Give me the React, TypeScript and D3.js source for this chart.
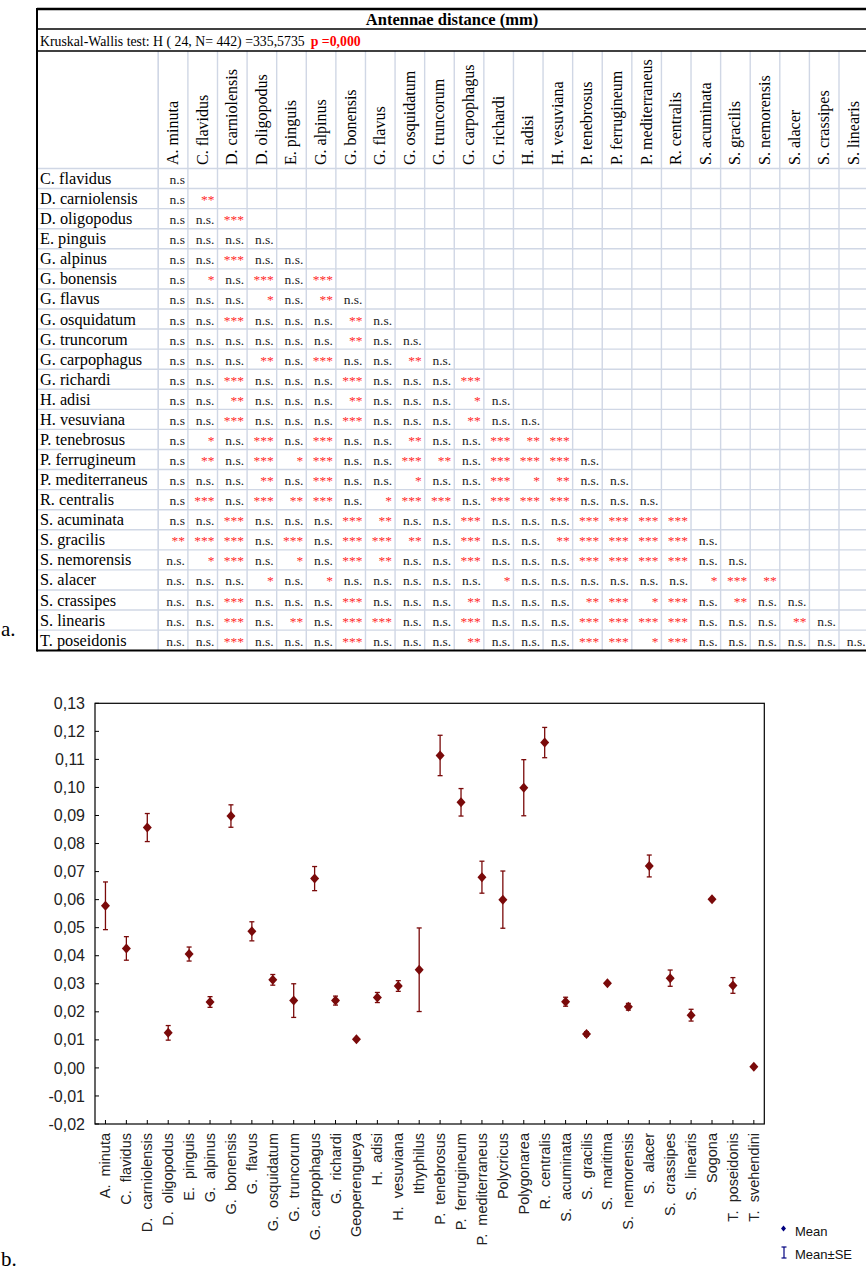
import * as d3 from 'd3';

// ---- table (a) ----
const tableTitle = 'Antennae distance (mm)';
const kwText = 'Kruskal-Wallis test: H ( 24, N= 442) =335,5735';
const kwP = 'p =0,000';

const colNames = [
  'A. minuta', 'C. flavidus', 'D. carniolensis', 'D. oligopodus', 'E. pinguis', 'G. alpinus',
  'G. bonensis', 'G. flavus', 'G. osquidatum', 'G. truncorum', 'G. carpophagus', 'G. richardi',
  'H. adisi', 'H. vesuviana', 'P. tenebrosus', 'P. ferrugineum', 'P. mediterraneus', 'R. centralis',
  'S. acuminata', 'S. gracilis', 'S. nemorensis', 'S. alacer', 'S. crassipes', 'S. linearis',
];

const rowNames = [
  'C. flavidus', 'D. carniolensis', 'D. oligopodus', 'E. pinguis', 'G. alpinus', 'G. bonensis',
  'G. flavus', 'G. osquidatum', 'G. truncorum', 'G. carpophagus', 'G. richardi', 'H. adisi',
  'H. vesuviana', 'P. tenebrosus', 'P. ferrugineum', 'P. mediterraneus', 'R. centralis',
  'S. acuminata', 'S. gracilis', 'S. nemorensis', 'S. alacer', 'S. crassipes', 'S. linearis',
  'T. poseidonis',
];

// lower triangle, one string per row
const sigRows = [
  'n.s',
  'n.s **',
  'n.s n.s. ***',
  'n.s n.s. n.s. n.s.',
  'n.s n.s. *** n.s. n.s.',
  'n.s * n.s. *** n.s. ***',
  'n.s n.s. n.s. * n.s. ** n.s.',
  'n.s n.s. *** n.s. n.s. n.s. ** n.s.',
  'n.s n.s. n.s. n.s. n.s. n.s. ** n.s. n.s.',
  'n.s n.s. n.s. ** n.s. *** n.s. n.s. ** n.s.',
  'n.s n.s. *** n.s. n.s. n.s. *** n.s. n.s. n.s. ***',
  'n.s n.s. ** n.s. n.s. n.s. ** n.s. n.s. n.s. * n.s.',
  'n.s n.s. *** n.s. n.s. n.s. *** n.s. n.s. n.s. ** n.s. n.s.',
  'n.s * n.s. *** n.s. *** n.s. n.s. ** n.s. n.s. *** ** ***',
  'n.s ** n.s. *** * *** n.s. n.s. *** ** n.s. *** *** *** n.s.',
  'n.s n.s. n.s. ** n.s. *** n.s. n.s. * n.s. n.s. *** * ** n.s. n.s.',
  'n.s *** n.s. *** ** *** n.s. * *** *** n.s. *** *** *** n.s. n.s. n.s.',
  'n.s n.s. *** n.s. n.s. n.s. *** ** n.s. n.s. *** n.s. n.s. n.s. *** *** *** ***',
  '** *** *** n.s. *** n.s. *** *** ** n.s. *** n.s. n.s. ** *** *** *** *** n.s.',
  'n.s. * *** n.s. * n.s. *** ** n.s. n.s. *** n.s. n.s. n.s. *** *** *** *** n.s. n.s.',
  'n.s. n.s. n.s. * n.s. * n.s. n.s. n.s. n.s. n.s. * n.s. n.s. n.s. n.s. n.s. n.s. * *** **',
  'n.s. n.s. *** n.s. n.s. n.s. *** n.s. n.s. n.s. ** n.s. n.s. n.s. ** *** * *** n.s. ** n.s. n.s.',
  'n.s. n.s. *** n.s. ** n.s. *** *** n.s. n.s. *** n.s. n.s. n.s. *** *** *** *** n.s. n.s. n.s. ** n.s.',
  'n.s. n.s. *** n.s. n.s. n.s. *** n.s. n.s. n.s. ** n.s. n.s. n.s. *** *** * *** n.s. n.s. n.s. n.s. n.s. n.s.',
];

// ---- chart (b) ----
const species = [
  'A.  minuta', 'C.  flavidus', 'D.  carniolensis', 'D.  oligopodus', 'E.  pinguis', 'G.  alpinus',
  'G.  bonensis', 'G.  flavus', 'G.  osquidatum', 'G.  truncorum', 'G.  carpophagus', 'G.  richardi',
  'Geoperengueya', 'H.  adisi', 'H.  vesuviana', 'Ithyphilus', 'P.  tenebrosus', 'P.  ferrugineum',
  'P.  mediterraneus', 'Polycricus', 'Polygonarea', 'R.  centralis', 'S.  acuminata', 'S.  gracilis',
  'S.  maritima', 'S.  nemorensis', 'S.  alacer', 'S.  crassipes', 'S.  linearis', 'Sogona',
  'T.  poseidonis', 'T.  svehendini',
];
const means = [
  0.0578, 0.0426, 0.0857, 0.0125, 0.0406, 0.0235, 0.0898, 0.0487, 0.0314, 0.0240, 0.0675, 0.0240,
  0.0102, 0.0251, 0.0292, 0.0350, 0.1114, 0.0947, 0.0680, 0.0600, 0.0999, 0.1160, 0.0236, 0.0121,
  0.0302, 0.0218, 0.0720, 0.0320, 0.0188, 0.0601, 0.0294, 0.0004,
];
const ses = [
  0.0085, 0.0042, 0.0050, 0.0026, 0.0025, 0.0019, 0.0040, 0.0034, 0.0019, 0.0060, 0.0043, 0.0016,
  0.0003, 0.0018, 0.0019, 0.0149, 0.0072, 0.0049, 0.0057, 0.0102, 0.0100, 0.0054, 0.0016, 0.0008,
  0.0003, 0.0012, 0.0039, 0.0029, 0.0021, 0.0002, 0.0028, 0.0002,
];
const yTicks = [-0.02, -0.01, 0, 0.01, 0.02, 0.03, 0.04, 0.05, 0.06, 0.07, 0.08, 0.09, 0.1, 0.11, 0.12, 0.13];

const SERIF = '"Liberation Serif", "Times New Roman", serif';
const SANS = '"Liberation Sans", Arial, sans-serif';
const GRID = '#d0d7e5';
const DARK_RED = '#7a0a0a';

const fmt = d3
  .formatLocale({ decimal: ',', thousands: '.', grouping: [3], currency: ['', ''], minus: '-' })
  .format('.2f');

function SigTable() {
  const colX = d3.scaleBand<string>().domain(colNames).range([158.3, 868.6]);
  const rowY = d3.scaleBand<string>().domain(rowNames).range([168.5, 650.2]);
  const bw = colX.bandwidth();
  const bh = rowY.bandwidth();

  return (
    <g>
      {/* grid */}
      {[...colNames.map((c) => colX(c) ?? 0), 158.3].map((x, i) => (
        <line key={`v${i}`} x1={x} x2={x} y1={51} y2={650} stroke={GRID} strokeWidth={1.4} />
      ))}
      {rowNames.map((r) => (
        <line key={`h${r}`} x1={37} x2={866} y1={rowY(r) ?? 0} y2={rowY(r) ?? 0} stroke={GRID} strokeWidth={1.4} />
      ))}
      {/* frame */}
      <line x1={37} x2={866} y1={9} y2={9} stroke="#000" strokeWidth={2.5} />
      <line x1={37} x2={866} y1={29} y2={29} stroke="#000" strokeWidth={1.5} />
      <line x1={37} x2={866} y1={51} y2={51} stroke="#000" strokeWidth={1.5} />
      <line x1={37} x2={866} y1={650.5} y2={650.5} stroke="#000" strokeWidth={2} />
      <line x1={37} x2={37} y1={8} y2={651.5} stroke="#000" strokeWidth={2} />

      <text x={452} y={25} textAnchor="middle" fontFamily={SERIF} fontWeight="bold" fontSize={16.5}>
        {tableTitle}
      </text>
      <text x={40} y={46} fontFamily={SERIF} fontSize={13.8}>
        {kwText}
        <tspan dx={6} fill="#ff0000" fontWeight="bold">{kwP}</tspan>
      </text>

      {colNames.map((c) => (
        <text
          key={`c${c}`}
          transform={`translate(${(colX(c) ?? 0) + bw / 2 + 5},165) rotate(-90)`}
          fontFamily={SERIF}
          fontSize={16}
        >
          {c}
        </text>
      ))}

      {rowNames.map((r, i) => (
        <g key={`r${r}`}>
          <text x={40} y={(rowY(r) ?? 0) + bh - 4.5} fontFamily={SERIF} fontSize={16.3}>
            {r}
          </text>
          {sigRows[i].split(' ').map((v, j) => {
            const star = v.startsWith('*');
            return (
              <text
                key={j}
                x={(colX(colNames[j]) ?? 0) + bw - 3}
                y={(rowY(r) ?? 0) + bh - 4.5}
                textAnchor="end"
                fontFamily={SERIF}
                fontSize={star ? 13.5 : 13.5}
                fill={star ? '#ff2a2a' : '#222'}
              >
                {v}
              </text>
            );
          })}
        </g>
      ))}
    </g>
  );
}

function MeanChart() {
  const left = 95;
  const right = 764.3;
  const top = 703.3;
  const bottom = 1124;
  const x = d3.scaleBand<string>().domain(species).range([left, right]);
  const y = d3.scaleLinear().domain([-0.02, 0.13]).range([bottom, top]);
  const cx = (s: string) => (x(s) ?? 0) + x.bandwidth() / 2;

  return (
    <g>
      <rect x={left} y={top} width={right - left} height={bottom - top} fill="none" stroke="#000" strokeWidth={1.2} />
      {yTicks.map((t) => (
        <g key={`y${t}`}>
          <line x1={left} x2={left + 4} y1={y(t)} y2={y(t)} stroke="#000" />
          <text x={85} y={y(t)} dy="0.35em" textAnchor="end" fontFamily={SANS} fontSize={16} fill="#222">
            {fmt(t)}
          </text>
        </g>
      ))}
      {species.map((s) => (
        <g key={`x${s}`}>
          <line x1={cx(s)} x2={cx(s)} y1={bottom} y2={bottom - 4} stroke="#000" />
          <text
            transform={`translate(${cx(s) + 5},${bottom + 9}) rotate(-90)`}
            textAnchor="end"
            fontFamily={SANS}
            fontSize={14.5}
            fill="#222"
            style={{ whiteSpace: 'pre' }}
          >
            {s}
          </text>
        </g>
      ))}
      {species.map((s, i) => {
        const px = cx(s);
        const hi = y(means[i] + ses[i]);
        const lo = y(means[i] - ses[i]);
        const py = y(means[i]);
        return (
          <g key={`p${s}`}>
            <line x1={px} x2={px} y1={hi} y2={lo} stroke={DARK_RED} strokeWidth={1.3} />
            <line x1={px - 2.5} x2={px + 2.5} y1={hi} y2={hi} stroke={DARK_RED} strokeWidth={1.3} />
            <line x1={px - 2.5} x2={px + 2.5} y1={lo} y2={lo} stroke={DARK_RED} strokeWidth={1.3} />
            <path d={`M${px},${py - 5}L${px + 4.5},${py}L${px},${py + 5}L${px - 4.5},${py}Z`} fill={DARK_RED} />
          </g>
        );
      })}
      {/* legend */}
      <path d="M783.5,1225.5L786,1228.5L783.5,1231.5L781,1228.5Z" fill="#000080" />
      <text x={795} y={1236} fontFamily={SANS} fontSize={13} fill="#111">Mean</text>
      <line x1={784} x2={784} y1={1247} y2={1258} stroke="#000080" strokeWidth={1.2} />
      <line x1={781.5} x2={786.5} y1={1247} y2={1247} stroke="#000080" strokeWidth={1.2} />
      <line x1={781.5} x2={786.5} y1={1258} y2={1258} stroke="#000080" strokeWidth={1.2} />
      <text x={795} y={1259} fontFamily={SANS} fontSize={13} fill="#111">Mean±SE</text>
    </g>
  );
}

export default function App() {
  return (
    <svg
      width={866}
      height={1277}
      style={{ position: 'absolute', left: 0, top: 0, background: '#fff' }}
    >
      <rect width={866} height={1277} fill="#fff" />
      <SigTable />
      <text x={1} y={636} fontFamily={SERIF} fontSize={21}>a.</text>
      <MeanChart />
      <text x={1} y={1266} fontFamily={SERIF} fontSize={21}>b.</text>
    </svg>
  );
}
